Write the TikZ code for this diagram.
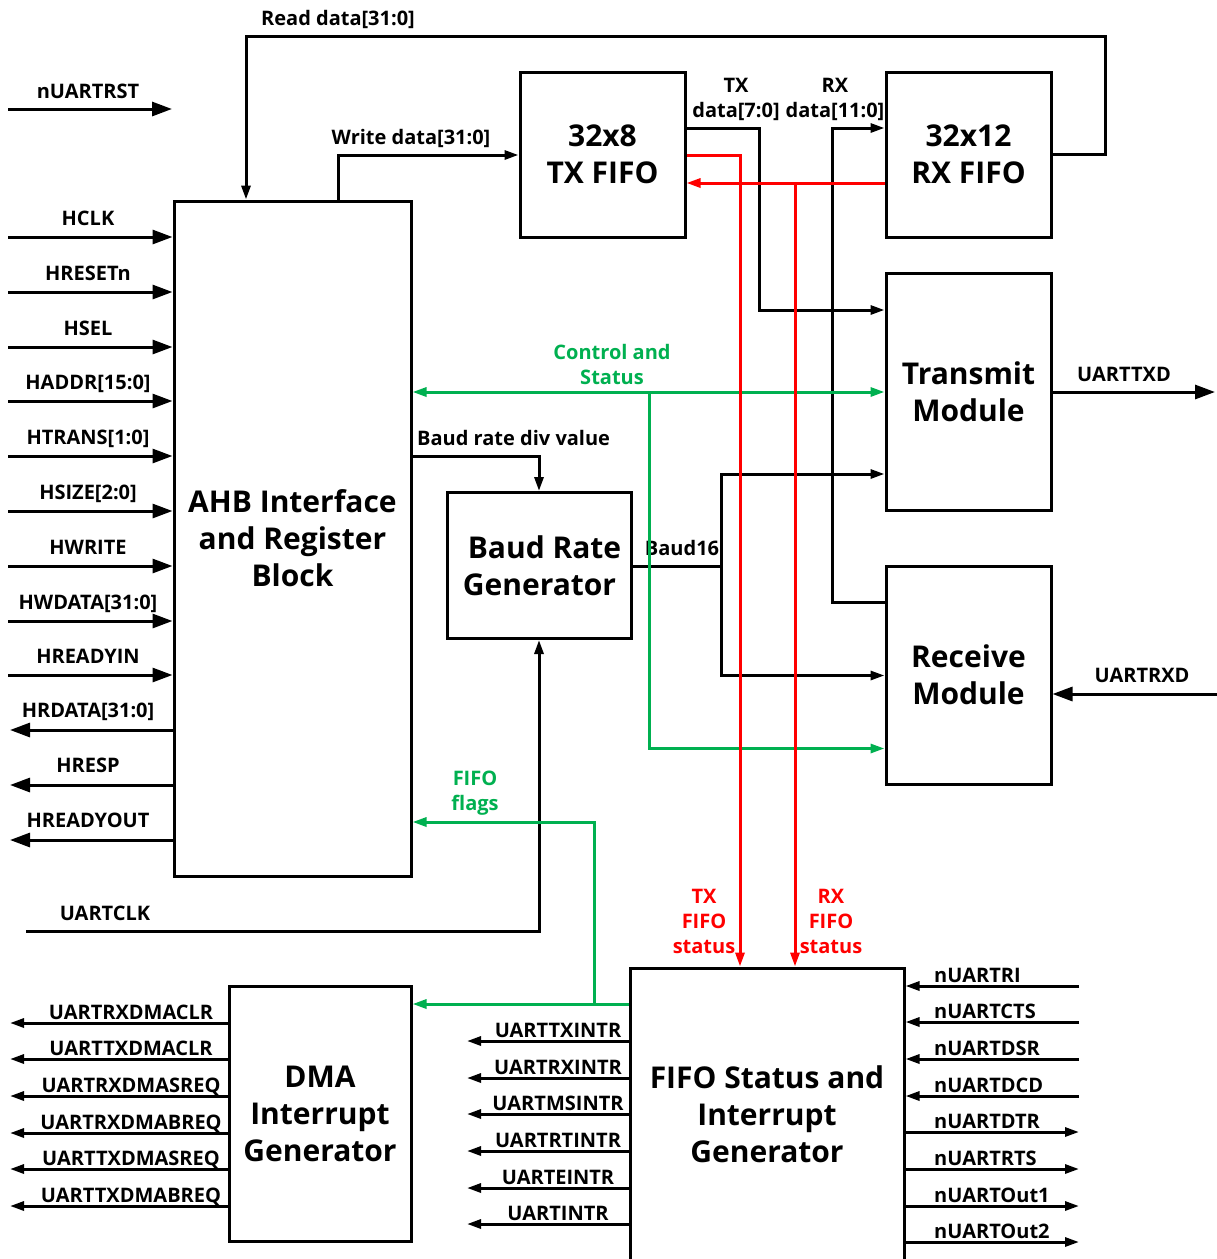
\documentclass[tikz,border=0pt]{standalone}
\usepackage{fontspec}
\setmainfont{Open Sans}
\usetikzlibrary{arrows.meta,calc}
\definecolor{rd}{RGB}{255,0,0}
\definecolor{gn}{RGB}{0,176,80}
\begin{document}
\begin{tikzpicture}[x=1pt,y=-1pt,
  wire/.style={line width=3pt},
  big/.style={wire,-{Triangle[length=20pt,width=14pt]}},
  sm/.style={wire,-{Triangle[length=14pt,width=9pt]}},
  blk/.style={draw,line width=3pt,inner sep=0pt,align=center,font=\fontsize{30}{37}\selectfont\bfseries},
  lbl/.style={anchor=base,inner sep=0pt,font=\fontsize{20}{25}\selectfont\bfseries},
  mlbl/.style={anchor=center,inner sep=0pt,align=center,font=\fontsize{20}{25}\selectfont\bfseries},
  lbll/.style={lbl,anchor=base west}]
\useasboundingbox (0,0) rectangle (1217,1259);
\fill[white] (0,0) rectangle (1217,1259);

% blocks
\node[blk,minimum width=237pt,minimum height=675pt] (ahb) at (292.5,538.5) {AHB Interface\\and Register\\Block};
\node[blk,minimum width=165pt,minimum height=165pt] (txf) at (602.5,154.5) {32x8\\TX FIFO};
\node[blk,minimum width=165pt,minimum height=165pt] (rxf) at (968.5,154.5) {32x12\\RX FIFO};
\node[blk,minimum width=165pt,minimum height=237pt] (tm) at (968.5,391.5) {Transmit\\Module};
\node[blk,minimum width=165pt,minimum height=218pt] (rm) at (968.5,675) {Receive\\Module};
\node[blk,minimum width=184pt,minimum height=146pt] (baud) at (539.5,565.5) {\hspace*{10pt}Baud Rate\\Generator};
\node[blk,minimum width=182pt,minimum height=255pt] (dma) at (320,1113.5) {DMA\\Interrupt\\Generator};
\node[blk,minimum width=274pt,minimum height=294pt] (fst) at (767,1115) {\raisebox{2pt}{FIFO Status and}\\\raisebox{2pt}{Interrupt}\\\raisebox{2pt}{Generator}};

% nUARTRST
\coordinate (nr1) at (8,109);
\coordinate (nr2) at (172,109);
\draw[big] (nr1) -- (nr2);
\node[lbl] (lnr) at (88,98) {nUARTRST};

% left inputs
\foreach \y/\t in {237/HCLK,292/HRESETn,347/HSEL,401/HADDR[15:0],456/HTRANS[1:0],511/HSIZE[2:0],566/HWRITE,621/HWDATA[31:0],675/HREADYIN}{
  \coordinate (i\y) at (8,\y);
  \draw[big] (i\y) -- (i\y -| ahb.west);
  \node[lbl] (li\y) at (88,\y-12) {\t};
}
% left outputs
\foreach \y/\t in {730/HRDATA[31:0],785/HRESP,840/HREADYOUT}{
  \coordinate (o\y) at (10,\y);
  \draw[big] (o\y -| ahb.west) -- (o\y);
  \node[lbl] (lo\y) at (88,\y-13) {\t};
}

% Read data
\coordinate (rd1) at (1105,154.5);
\coordinate (rd2) at (1105,36);
\coordinate (rd3) at (246,36);
\draw[sm] (rxf.east) -- (rd1) -- (rd2) -- (rd3) -- (rd3 |- ahb.north);
\node[lbl] (lrd) at (338,25) {Read data[31:0]};

% Write data
\coordinate (wd) at (338,155);
\draw[sm] (wd |- ahb.north) -- (wd) -- (wd -| txf.west);
\node[lbl] (lwd) at (411,144) {Write data[31:0]};

% TX data
\coordinate (txd) at (759,128);
\coordinate (txd2) at (759,310);
\draw[sm] (txd -| txf.east) -- (txd) -- (txd2) -- (txd2 -| tm.west);
\node[mlbl] (ltxd) at (736,99) {TX\\data[7:0]};

% RX data
\coordinate (rxd) at (832,128);
\coordinate (rxd2) at (832,602);
\draw[sm] (rxd2 -| rm.west) -- (rxd2) -- (rxd) -- (rxd -| rxf.west);
\node[mlbl] (lrxd) at (835,99) {RX\\data[11:0]};

% Baud rate div value
\coordinate (bd) at (539,456.5);
\draw[sm] (ahb.east |- bd) -- (bd) -- (bd |- baud.north);
\node[lbll] (lbd) at (417,445) {Baud rate div value};

% UARTCLK
\coordinate (uc) at (26,931);
\coordinate (uc2) at (539,931);
\draw[sm] (uc) -- (uc2) -- (uc2 |- baud.south);
\node[lbl] (luc) at (105,920) {UARTCLK};

% Baud16
\coordinate (b16) at (721.5,566);
\coordinate (b16t) at (721.5,474);
\coordinate (b16b) at (721.5,675.5);
\draw[wire] (baud.east |- b16) -- (b16);
\draw[sm] (b16) -- (b16t) -- (b16t -| tm.west);
\draw[sm] (b16) -- (b16b) -- (b16b -| rm.west);
\node[lbl] (lb16) at (682,555) {Baud16};

% UARTTXD / UARTRXD
\coordinate (utx) at (1215,392);
\draw[big] (tm.east |- utx) -- (utx);
\node[lbl] (lutx) at (1124,381) {UARTTXD};
\coordinate (urx) at (1217,694);
\draw[big] (urx) -- (urx -| rm.east);
\node[lbl] (lurx) at (1142,682) {UARTRXD};

% Control and Status (green)
\coordinate (cs) at (649,392);
\coordinate (cs2) at (649,748.5);
\draw[gn,wire,{Triangle[length=14pt,width=9pt]}-{Triangle[length=14pt,width=9pt]}] (ahb.east |- cs) -- (cs -| tm.west);
\draw[sm,gn] (cs) -- (cs2) -- (cs2 -| rm.west);
\node[mlbl,text=gn] (lcs) at (612,364) {Control and\\Status};

% FIFO flags (green)
\coordinate (ff) at (594,1004);
\coordinate (ff2) at (594,822);
\draw[sm,gn] (fst.west |- ff) -- (ff -| dma.east);
\draw[sm,gn] (ff) -- (ff2) -- (ff2 -| ahb.east);
\node[mlbl,text=gn] (lff) at (475,793) {FIFO\\flags};

% red status lines
\coordinate (rs1) at (740,155);
\draw[sm,rd] (rs1 -| txf.east) -- (rs1) -- (rs1 |- fst.north);
\coordinate (rs2) at (795,183);
\draw[sm,rd] (rs2 -| rxf.west) -- (rs2 -| txf.east);
\draw[sm,rd] (rs2) -- (rs2 |- fst.north);
\node[mlbl,text=rd] (ltxs) at (704,921) {TX\\FIFO\\status};
\node[mlbl,text=rd] (lrxs) at (831,921) {RX\\FIFO\\status};

% DMA outputs
\foreach \y/\t in {1023/UARTRXDMACLR,1059/UARTTXDMACLR,1096/UARTRXDMASREQ,1133/UARTRXDMABREQ,1169/UARTTXDMASREQ,1206/UARTTXDMABREQ}{
  \coordinate (d\y) at (10,\y);
  \draw[sm] (d\y -| dma.west) -- (d\y);
  \node[lbl] (ld\y) at (131,\y-4) {\t};
}
% FIFO status left outputs
\foreach \y/\t in {1041/UARTTXINTR,1078/UARTRXINTR,1114/UARTMSINTR,1151/UARTRTINTR,1188/UARTEINTR,1224/UARTINTR}{
  \coordinate (f\y) at (467,\y);
  \draw[sm] (f\y -| fst.west) -- (f\y);
  \node[lbl] (lf\y) at (558,\y-4) {\t};
}
% FIFO status right inputs
\foreach \y/\t in {986/nUARTRI,1022/nUARTCTS,1059/nUARTDSR,1096/nUARTDCD}{
  \coordinate (ri\y) at (1079,\y);
  \draw[sm] (ri\y) -- (ri\y -| fst.east);
  \node[lbll] (lri\y) at (934,\y-4) {\t};
}
% FIFO status right outputs
\foreach \y/\t in {1132/nUARTDTR,1169/nUARTRTS,1206/nUARTOut1,1242/nUARTOut2}{
  \coordinate (ro\y) at (1079,\y);
  \draw[sm] (ro\y -| fst.east) -- (ro\y);
  \node[lbll] (lro\y) at (934,\y-4) {\t};
}
\end{tikzpicture}
\end{document}
